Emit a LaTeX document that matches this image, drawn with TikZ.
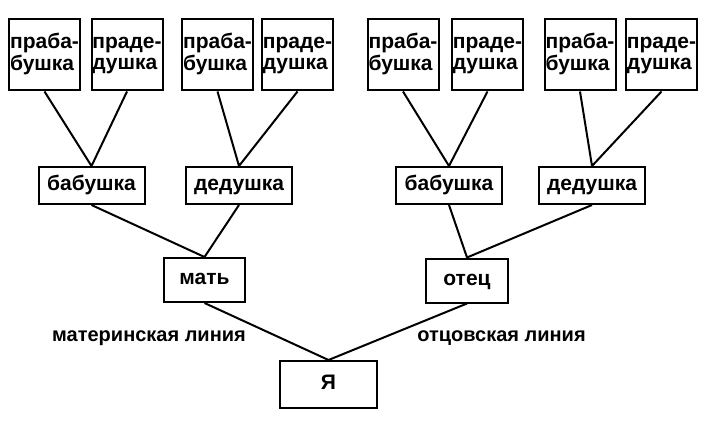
\documentclass[tikz,border=0pt]{standalone}
\usepackage{fontspec}
\setmainfont{Liberation Sans}
\usepackage{tikz}
\usetikzlibrary{positioning}

\begin{document}
\begin{tikzpicture}[x=1pt, y=-1pt, line width=2pt,
  box/.style={draw, inner sep=0pt, font=\bfseries\fontsize{21}{21}\selectfont},
  tbox/.style={box, minimum width=71pt, minimum height=71pt, align=left},
  mbox/.style={box, minimum width=106pt, minimum height=37pt, text height=14pt, text depth=5pt}]
\useasboundingbox (0, 0) rectangle (706, 422);

% great-grandparents
\foreach \n/\x/\a/\b in {pb1/44.5/праба-/бушка, pd1/127/праде-/душка,
  pb2/217.5/праба-/бушка, pd2/297.5/праде-/душка,
  pb3/403/праба-/бушка, pd3/487.5/праде-/душка,
  pb4/580/праба-/бушка, pd4/661.5/праде-/душка}
  \node[tbox] (\n) at (\x, 55) {\a\strut\\\b\strut};

% grandparents
\node[mbox] (b1) at (91.5, 185.5) {бабушка};
\node[mbox] (d1) at (239, 185.5) {дедушка};
\node[mbox] (b2) at (449, 185.5) {бабушка};
\node[mbox] (d2) at (592, 185.5) {дедушка};

% parents and me
\node[mbox, minimum width=81pt, minimum height=44pt] (m) at (204.5, 280) {мать};
\node[mbox, minimum width=82pt, minimum height=44pt] (o) at (467, 280.5) {отец};
\node[mbox, minimum width=97pt, minimum height=47pt] (me) at (328.5, 384.5) {Я};

\node[font=\bfseries\fontsize{20}{21}\selectfont] (ml) at (149, 338) {материнская линия};
\node[font=\bfseries\fontsize{20}{21}\selectfont] (ol) at (501.5, 338) {отцовская линия};

\draw (pb1.south) -- (b1.north) -- (pd1.south);
\draw (pb2.south) -- (d1.north) -- (pd2.south);
\draw (pb3.south) -- (b2.north) -- (pd3.south);
\draw (pb4.south) -- (d2.north) -- (pd4.south);
\draw (b1.south) -- (m.north) -- (d1.south);
\draw (b2.south) -- (o.north) -- (d2.south);
\draw (m.south) -- (me.north) -- (o.south);
\end{tikzpicture}
\end{document}
